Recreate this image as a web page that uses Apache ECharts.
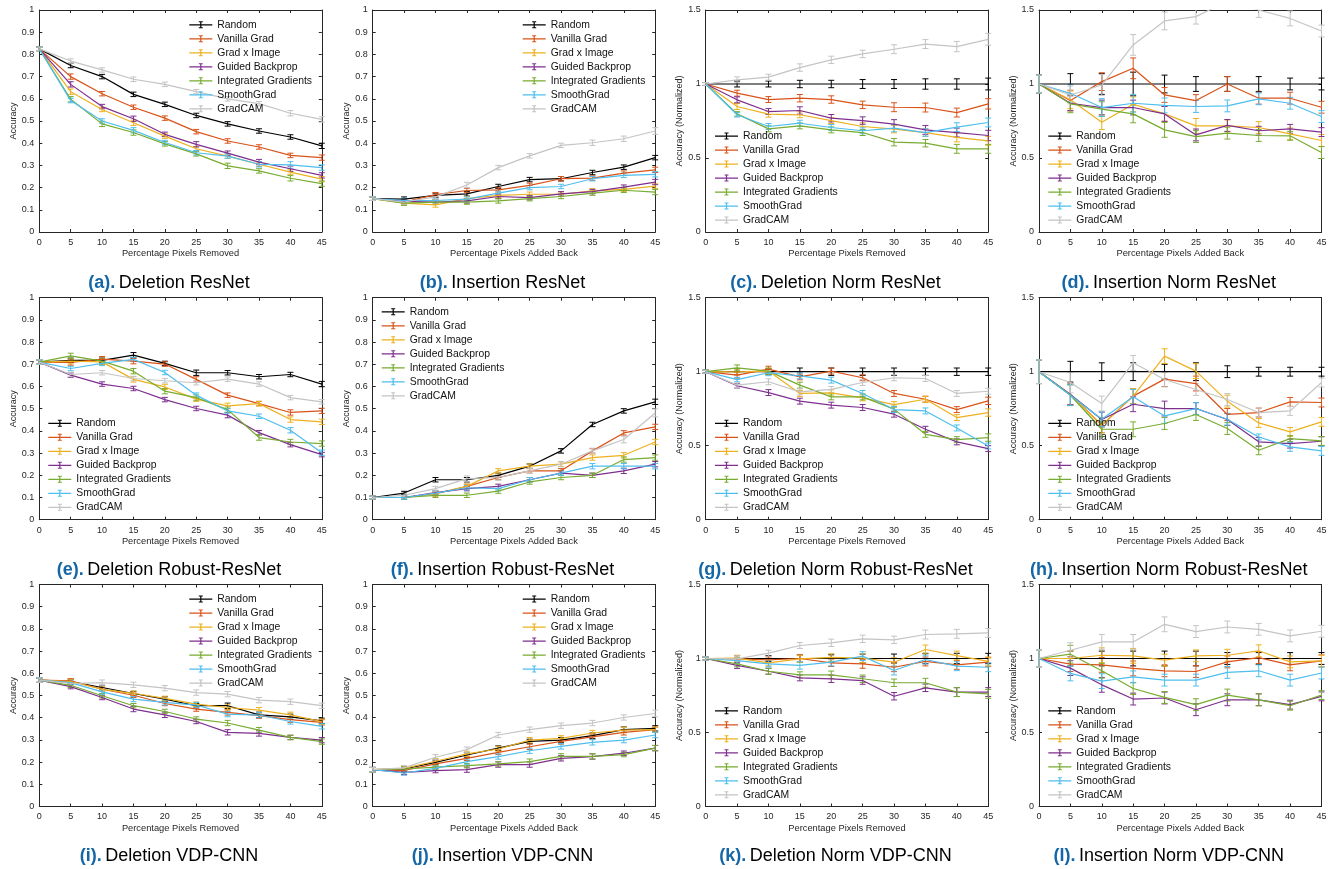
<!DOCTYPE html>
<html><head><meta charset="utf-8">
<script src="https://cdn.jsdelivr.net/npm/echarts@6/dist/echarts.min.js"></script>
<style>html,body{margin:0;padding:0;background:#fff}#c{width:1335px;height:869px}</style>
</head><body><div id="c"></div>
<script>
// ---------------- DATA ----------------
const xValues = [0, 5, 10, 15, 20, 25, 30, 35, 40, 45];
const methodNames = ['Random', 'Vanilla Grad', 'Grad x Image', 'Guided Backprop', 'Integrated Gradients', 'SmoothGrad', 'GradCAM'];
const panelLetters = ['a','b','c','d','e','f','g','h','i','j','k','l'];
const panelTitles = ['Deletion ResNet','Insertion ResNet','Deletion Norm ResNet','Insertion Norm ResNet',
  'Deletion Robust-ResNet','Insertion Robust-ResNet','Deletion Norm Robust-ResNet','Insertion Norm Robust-ResNet',
  'Deletion VDP-CNN','Insertion VDP-CNN','Deletion Norm VDP-CNN','Insertion Norm VDP-CNN'];
const xAxisTitles = ['Percentage Pixels Removed','Percentage Pixels Added Back'];
const yAxisTitles = ['Accuracy','Accuracy (Normalized)'];

const aMean = [
  [0.825,0.750,0.700,0.620,0.575,0.525,0.487,0.455,0.428,0.388],
  [0.825,0.700,0.623,0.562,0.513,0.452,0.410,0.383,0.345,0.335],
  [0.825,0.632,0.552,0.492,0.432,0.375,0.342,0.305,0.270,0.238],
  [0.825,0.665,0.565,0.510,0.440,0.395,0.355,0.315,0.285,0.255],
  [0.825,0.598,0.487,0.448,0.397,0.352,0.298,0.275,0.242,0.218],
  [0.825,0.592,0.500,0.458,0.403,0.357,0.342,0.305,0.302,0.290],
  [0.825,0.770,0.730,0.688,0.665,0.632,0.600,0.578,0.535,0.507]];
const aErr = [
  [0.008,0.01,0.01,0.01,0.01,0.01,0.01,0.01,0.01,0.012],
  [0.008,0.012,0.01,0.01,0.01,0.01,0.01,0.01,0.01,0.012],
  [0.008,0.012,0.01,0.012,0.01,0.01,0.01,0.01,0.01,0.012],
  [0.008,0.012,0.01,0.012,0.01,0.012,0.01,0.012,0.012,0.012],
  [0.008,0.012,0.012,0.012,0.01,0.01,0.012,0.01,0.012,0.012],
  [0.008,0.01,0.01,0.012,0.01,0.01,0.01,0.012,0.015,0.012],
  [0.008,0.01,0.01,0.01,0.01,0.01,0.01,0.01,0.012,0.012]];

const bMean = [
  [0.150,0.148,0.165,0.172,0.205,0.236,0.240,0.268,0.292,0.335],
  [0.150,0.135,0.168,0.187,0.190,0.210,0.240,0.243,0.265,0.280],
  [0.150,0.130,0.122,0.150,0.165,0.170,0.170,0.185,0.192,0.207],
  [0.150,0.138,0.135,0.140,0.160,0.155,0.172,0.182,0.202,0.225],
  [0.150,0.130,0.135,0.135,0.140,0.150,0.160,0.175,0.188,0.180],
  [0.150,0.142,0.142,0.148,0.175,0.200,0.205,0.240,0.255,0.260],
  [0.150,0.135,0.158,0.212,0.290,0.343,0.390,0.402,0.420,0.455]];
const bErr = [
  [0.008,0.01,0.01,0.01,0.01,0.01,0.01,0.01,0.01,0.01],
  [0.008,0.01,0.01,0.01,0.01,0.01,0.01,0.01,0.01,0.012],
  [0.008,0.01,0.01,0.01,0.01,0.01,0.01,0.01,0.01,0.01],
  [0.008,0.01,0.01,0.01,0.01,0.01,0.01,0.01,0.01,0.012],
  [0.008,0.01,0.01,0.01,0.01,0.01,0.01,0.01,0.01,0.012],
  [0.008,0.01,0.01,0.01,0.01,0.01,0.01,0.01,0.01,0.012],
  [0.008,0.01,0.01,0.012,0.01,0.01,0.01,0.012,0.012,0.015]];

const cMean = [
  [1,1,1,1,1,1,1,1,1,1],
  [1,0.938,0.895,0.904,0.895,0.859,0.843,0.841,0.807,0.866],
  [1,0.848,0.796,0.792,0.753,0.713,0.695,0.672,0.639,0.616],
  [1,0.893,0.814,0.821,0.769,0.753,0.729,0.690,0.672,0.652],
  [1,0.798,0.697,0.717,0.690,0.672,0.607,0.600,0.562,0.562],
  [1,0.792,0.713,0.735,0.706,0.684,0.702,0.672,0.708,0.740],
  [1,1.028,1.046,1.111,1.163,1.203,1.235,1.270,1.253,1.302]];
const cErr = [
  [0.01,0.02,0.02,0.025,0.025,0.03,0.03,0.035,0.035,0.04],
  [0.01,0.02,0.02,0.025,0.025,0.025,0.03,0.03,0.03,0.035],
  [0.01,0.02,0.02,0.02,0.02,0.025,0.025,0.025,0.03,0.03],
  [0.01,0.02,0.02,0.025,0.025,0.025,0.03,0.03,0.03,0.035],
  [0.01,0.015,0.02,0.02,0.02,0.02,0.025,0.025,0.03,0.03],
  [0.01,0.015,0.02,0.02,0.02,0.02,0.025,0.025,0.03,0.03],
  [0.01,0.02,0.02,0.025,0.025,0.025,0.03,0.03,0.035,0.04]];

const dMean = [
  [1,1,1,1,1,1,1,1,1,1],
  [1,0.888,1.016,1.106,0.926,0.888,1.000,0.904,0.904,0.843],
  [1,0.893,0.742,0.863,0.798,0.717,0.717,0.706,0.663,0.618],
  [1,0.870,0.841,0.841,0.798,0.656,0.720,0.684,0.697,0.675],
  [1,0.866,0.830,0.798,0.690,0.645,0.668,0.652,0.650,0.537],
  [1,0.937,0.841,0.870,0.855,0.848,0.852,0.900,0.870,0.780],
  [1,0.926,0.993,1.264,1.426,1.455,1.560,1.500,1.443,1.358]];
const dErr = [
  [0.06,0.07,0.07,0.08,0.06,0.05,0.05,0.05,0.04,0.04],
  [0.06,0.07,0.06,0.07,0.05,0.04,0.05,0.04,0.04,0.04],
  [0.06,0.06,0.05,0.05,0.05,0.05,0.04,0.04,0.04,0.04],
  [0.06,0.05,0.05,0.05,0.05,0.04,0.04,0.03,0.03,0.03],
  [0.06,0.06,0.05,0.06,0.05,0.04,0.04,0.04,0.03,0.04],
  [0.06,0.06,0.06,0.06,0.05,0.04,0.04,0.04,0.04,0.04],
  [0.06,0.06,0.07,0.07,0.06,0.05,0.05,0.05,0.05,0.04]];

const eMean = [
  [0.710,0.718,0.718,0.741,0.704,0.662,0.662,0.644,0.654,0.611],
  [0.710,0.708,0.723,0.714,0.701,0.632,0.561,0.523,0.483,0.490],
  [0.710,0.714,0.711,0.632,0.598,0.543,0.513,0.523,0.451,0.441],
  [0.710,0.651,0.611,0.591,0.541,0.501,0.471,0.392,0.338,0.293],
  [0.710,0.738,0.714,0.669,0.579,0.550,0.496,0.370,0.350,0.343],
  [0.710,0.681,0.704,0.722,0.663,0.561,0.490,0.466,0.403,0.302],
  [0.710,0.654,0.662,0.636,0.626,0.617,0.633,0.611,0.550,0.531]];
const eErr = [
  [0.01,0.01,0.01,0.012,0.01,0.012,0.01,0.01,0.01,0.012],
  [0.01,0.012,0.012,0.012,0.01,0.012,0.01,0.01,0.012,0.012],
  [0.01,0.012,0.012,0.012,0.012,0.01,0.012,0.01,0.012,0.012],
  [0.01,0.01,0.01,0.01,0.01,0.01,0.012,0.01,0.01,0.01],
  [0.01,0.012,0.012,0.012,0.012,0.012,0.012,0.012,0.012,0.012],
  [0.01,0.01,0.01,0.01,0.01,0.01,0.01,0.01,0.012,0.012],
  [0.01,0.01,0.01,0.01,0.01,0.01,0.01,0.01,0.01,0.01]];

const fMean = [
  [0.100,0.120,0.180,0.180,0.200,0.241,0.310,0.429,0.490,0.531],
  [0.100,0.100,0.117,0.150,0.190,0.220,0.220,0.310,0.391,0.418],
  [0.100,0.100,0.117,0.150,0.220,0.241,0.250,0.280,0.290,0.350],
  [0.100,0.100,0.122,0.140,0.150,0.180,0.210,0.200,0.220,0.250],
  [0.100,0.100,0.110,0.110,0.129,0.170,0.190,0.200,0.271,0.280],
  [0.100,0.100,0.120,0.144,0.140,0.180,0.210,0.241,0.241,0.241],
  [0.100,0.110,0.140,0.185,0.190,0.220,0.250,0.310,0.361,0.481]];
const fErr = [
  [0.006,0.008,0.01,0.01,0.01,0.01,0.01,0.01,0.01,0.012],
  [0.006,0.008,0.01,0.01,0.01,0.01,0.01,0.01,0.01,0.012],
  [0.006,0.008,0.01,0.01,0.01,0.01,0.01,0.012,0.012,0.012],
  [0.006,0.008,0.01,0.01,0.01,0.01,0.01,0.01,0.012,0.012],
  [0.006,0.008,0.01,0.01,0.01,0.01,0.01,0.01,0.012,0.012],
  [0.006,0.008,0.01,0.01,0.01,0.01,0.01,0.012,0.012,0.012],
  [0.006,0.008,0.01,0.012,0.012,0.012,0.012,0.012,0.015,0.018]];

const gMean = [
  [1,1,1,1,1,1,1,1,1,1],
  [1,0.977,1.017,0.965,1.004,0.959,0.853,0.814,0.744,0.803],
  [1,0.999,1.004,0.853,0.857,0.823,0.778,0.814,0.690,0.724],
  [1,0.905,0.859,0.801,0.774,0.758,0.713,0.611,0.526,0.480],
  [1,1.026,1.004,0.909,0.830,0.830,0.747,0.577,0.541,0.555],
  [1,0.947,0.993,0.972,0.943,0.853,0.744,0.735,0.620,0.498],
  [1,0.909,0.932,0.864,0.880,0.927,0.959,0.954,0.853,0.868]];
const gErr = [
  [0.01,0.02,0.02,0.025,0.025,0.025,0.025,0.025,0.025,0.025],
  [0.01,0.02,0.02,0.02,0.02,0.02,0.02,0.02,0.02,0.025],
  [0.01,0.02,0.02,0.02,0.02,0.02,0.02,0.02,0.02,0.025],
  [0.01,0.015,0.02,0.02,0.02,0.02,0.02,0.02,0.02,0.02],
  [0.01,0.02,0.02,0.02,0.02,0.02,0.02,0.02,0.02,0.025],
  [0.01,0.015,0.02,0.02,0.02,0.02,0.02,0.02,0.02,0.02],
  [0.01,0.015,0.02,0.02,0.02,0.02,0.02,0.02,0.02,0.02]];

const hMean = [
  [1,1,1,1,1,1,1,1,1,1],
  [1,0.846,0.638,0.835,0.950,0.920,0.711,0.724,0.796,0.792],
  [1,0.846,0.638,0.835,1.105,1.004,0.801,0.654,0.593,0.661],
  [1,0.846,0.677,0.780,0.751,0.751,0.677,0.526,0.514,0.530],
  [1,0.841,0.611,0.611,0.650,0.711,0.616,0.469,0.548,0.532],
  [1,0.841,0.679,0.830,0.701,0.751,0.679,0.559,0.492,0.465],
  [1,0.927,0.785,1.060,0.947,0.880,0.812,0.724,0.735,0.927]];
const hErr = [
  [0.08,0.07,0.06,0.06,0.05,0.06,0.04,0.03,0.03,0.03],
  [0.08,0.07,0.05,0.05,0.05,0.05,0.04,0.03,0.03,0.03],
  [0.08,0.07,0.05,0.05,0.05,0.05,0.04,0.03,0.03,0.03],
  [0.08,0.07,0.05,0.05,0.05,0.04,0.04,0.03,0.03,0.03],
  [0.08,0.07,0.05,0.05,0.04,0.04,0.04,0.03,0.02,0.03],
  [0.08,0.07,0.05,0.05,0.05,0.04,0.04,0.02,0.03,0.03],
  [0.08,0.07,0.05,0.05,0.05,0.04,0.04,0.03,0.03,0.03]];

const iMean = [
  [0.569,0.563,0.536,0.509,0.484,0.454,0.454,0.413,0.404,0.386],
  [0.569,0.566,0.528,0.501,0.464,0.439,0.424,0.409,0.391,0.379],
  [0.569,0.563,0.528,0.510,0.487,0.461,0.446,0.434,0.413,0.382],
  [0.569,0.540,0.491,0.439,0.413,0.383,0.334,0.329,0.311,0.299],
  [0.569,0.546,0.499,0.454,0.428,0.394,0.376,0.344,0.311,0.292],
  [0.569,0.558,0.516,0.484,0.469,0.457,0.416,0.412,0.383,0.361],
  [0.569,0.554,0.558,0.548,0.533,0.513,0.506,0.479,0.472,0.454]];
const iErr = [
  [0.01,0.01,0.01,0.01,0.01,0.01,0.012,0.012,0.012,0.012],
  [0.01,0.01,0.01,0.01,0.01,0.01,0.012,0.012,0.012,0.012],
  [0.01,0.01,0.01,0.01,0.01,0.01,0.012,0.012,0.012,0.012],
  [0.01,0.01,0.01,0.012,0.012,0.01,0.012,0.012,0.01,0.012],
  [0.01,0.01,0.01,0.01,0.01,0.01,0.012,0.012,0.01,0.012],
  [0.01,0.01,0.01,0.012,0.012,0.012,0.012,0.012,0.012,0.012],
  [0.01,0.01,0.012,0.012,0.012,0.012,0.012,0.012,0.012,0.012]];

const jMean = [
  [0.166,0.169,0.199,0.232,0.263,0.293,0.299,0.319,0.346,0.352],
  [0.166,0.162,0.192,0.217,0.244,0.269,0.293,0.314,0.334,0.346],
  [0.166,0.172,0.204,0.237,0.259,0.299,0.307,0.331,0.344,0.346],
  [0.166,0.154,0.162,0.166,0.189,0.189,0.217,0.225,0.240,0.263],
  [0.166,0.169,0.177,0.184,0.192,0.202,0.226,0.226,0.234,0.263],
  [0.166,0.151,0.172,0.202,0.225,0.251,0.271,0.289,0.299,0.322],
  [0.166,0.174,0.222,0.256,0.322,0.346,0.364,0.376,0.401,0.419]];
const jErr = [
  [0.01,0.01,0.01,0.01,0.01,0.01,0.012,0.012,0.012,0.012],
  [0.01,0.01,0.01,0.01,0.01,0.012,0.012,0.012,0.012,0.012],
  [0.01,0.01,0.012,0.012,0.012,0.012,0.012,0.012,0.012,0.012],
  [0.01,0.01,0.01,0.012,0.012,0.012,0.012,0.012,0.01,0.012],
  [0.01,0.01,0.01,0.01,0.01,0.012,0.012,0.012,0.01,0.012],
  [0.01,0.01,0.01,0.012,0.012,0.012,0.012,0.012,0.012,0.012],
  [0.01,0.01,0.012,0.012,0.012,0.012,0.012,0.012,0.012,0.015]];

const kMean = [
  [1,1,1,1,1,1,1,1,1,1],
  [1,0.998,0.991,1.000,0.971,0.964,0.941,0.980,0.957,0.975],
  [1,1.002,0.971,0.998,1.007,1.002,0.975,1.061,1.020,0.980],
  [1,0.953,0.914,0.869,0.863,0.851,0.745,0.802,0.773,0.773],
  [1,0.964,0.914,0.890,0.890,0.863,0.836,0.836,0.773,0.761],
  [1,0.986,0.964,0.953,0.975,1.016,0.919,0.993,0.948,0.941],
  [1,0.998,1.036,1.088,1.106,1.133,1.126,1.162,1.167,1.173]];
const kErr = [
  [0.01,0.02,0.02,0.025,0.025,0.03,0.03,0.035,0.035,0.035],
  [0.01,0.02,0.02,0.025,0.025,0.03,0.03,0.03,0.03,0.03],
  [0.01,0.02,0.02,0.025,0.025,0.03,0.03,0.03,0.03,0.03],
  [0.01,0.02,0.02,0.02,0.025,0.025,0.025,0.025,0.03,0.03],
  [0.01,0.02,0.02,0.02,0.025,0.025,0.025,0.03,0.03,0.03],
  [0.01,0.02,0.02,0.025,0.025,0.03,0.03,0.03,0.03,0.03],
  [0.01,0.02,0.02,0.02,0.025,0.025,0.025,0.03,0.03,0.03]];

const lMean = [
  [1,1,1,1,1,1,1,1,1,1],
  [1,0.962,0.957,0.933,0.917,0.912,0.977,1.006,0.957,0.984],
  [1,1.000,1.022,1.018,0.989,1.018,1.022,1.052,0.977,0.984],
  [1,0.935,0.822,0.726,0.733,0.654,0.721,0.721,0.688,0.744],
  [1,1.029,0.917,0.797,0.737,0.688,0.753,0.721,0.681,0.753],
  [1,0.899,0.847,0.876,0.854,0.854,0.906,0.917,0.854,0.902],
  [1,1.056,1.112,1.112,1.231,1.182,1.213,1.197,1.153,1.184]];
const lErr = [
  [0.06,0.05,0.05,0.05,0.05,0.05,0.04,0.04,0.04,0.04],
  [0.06,0.05,0.05,0.05,0.04,0.04,0.04,0.04,0.04,0.04],
  [0.06,0.05,0.05,0.05,0.04,0.04,0.04,0.04,0.04,0.04],
  [0.06,0.05,0.05,0.04,0.04,0.04,0.04,0.04,0.03,0.03],
  [0.06,0.06,0.05,0.04,0.04,0.04,0.04,0.04,0.03,0.03],
  [0.06,0.05,0.05,0.04,0.04,0.04,0.04,0.04,0.04,0.04],
  [0.06,0.05,0.05,0.05,0.05,0.04,0.04,0.04,0.04,0.04]];

// ---------------- STYLE / LAYOUT ----------------
const panelMeans = [aMean,bMean,cMean,dMean,eMean,fMean,gMean,hMean,iMean,jMean,kMean,lMean];
const panelErrs  = [aErr,bErr,cErr,dErr,eErr,fErr,gErr,hErr,iErr,jErr,kErr,lErr];
const methodColors = ['#000000','#D95319','#EDB120','#7E2F8E','#77AC30','#4DBEEE','#C4C4C4'];
const FONT = '"Liberation Sans", Arial, Helvetica, sans-serif';
const AX = '#262626';
const colLeft = [39.3, 372.7, 705.7, 1039];
const rowTop = [10, 297.7, 584.5];
const gridW = 282.5, gridH = 222;
const captionY = [283.3, 570, 856.3];
const legendPos = [[189.3,19.7],[522.7,19.7],[715,131],[1048.3,131],
                   [48.3,418.3],[381.7,306.7],[715,418.3],[1048.3,418.3],
                   [189.3,594],[522.7,594],[715,705.7],[1048.3,705.7]];
const errIcon = 'path://M0,3L23,3L23,4.2L0,4.2Z M10.9,0L12.1,0L12.1,7L10.9,7Z M9.5,0L13.5,0L13.5,1L9.5,1Z M9.5,6L13.5,6L13.5,7L9.5,7Z';

function errRender(color) {
  return function (params, api) {
    const x = api.value(0), y = api.value(1), e = api.value(2);
    const cs = params.coordSys;
    const p1 = api.coord([x, y + e]);
    const p2 = api.coord([x, y - e]);
    const topLim = cs.y, botLim = cs.y + cs.height;
    const children = [];
    if (p2[1] < topLim || p1[1] > botLim) return { type: 'group', children };
    const st = { stroke: color, lineWidth: 1 };
    const hw = 3;
    children.push({ type: 'line', shape: { x1: p1[0], y1: Math.max(p1[1], topLim), x2: p2[0], y2: Math.min(p2[1], botLim) }, style: st });
    if (p1[1] >= topLim) children.push({ type: 'line', shape: { x1: p1[0] - hw, y1: p1[1], x2: p1[0] + hw, y2: p1[1] }, style: st });
    if (p2[1] <= botLim) children.push({ type: 'line', shape: { x1: p2[0] - hw, y1: p2[1], x2: p2[0] + hw, y2: p2[1] }, style: st });
    return { type: 'group', children };
  };
}

const grids = [], xAxes = [], yAxes = [], series = [], legends = [], titles = [];
for (let p = 0; p < 12; p++) {
  const r = Math.floor(p / 4), c = p % 4;
  const isNorm = (c >= 2);
  const isIns = (c % 2 === 1);
  const yMax = isNorm ? 1.5 : 1;
  const yStep = isNorm ? 0.5 : 0.1;
  grids.push({ left: colLeft[c], top: rowTop[r], width: gridW, height: gridH, show: false });
  const lineSt = { show: true, onZero: false, lineStyle: { color: AX, width: 1 } };
  const tickSt = { show: true, inside: true, length: 3, lineStyle: { color: AX, width: 1 } };
  xAxes.push({
    gridIndex: p, type: 'value', min: 0, max: 45, interval: 5, position: 'bottom',
    name: xAxisTitles[isIns ? 1 : 0], nameLocation: 'middle', nameGap: 17,
    nameTextStyle: { fontSize: 9.3, color: AX, fontFamily: FONT },
    axisLine: lineSt, axisTick: tickSt, splitLine: { show: false },
    axisLabel: { fontSize: 9, color: AX, margin: 6, fontFamily: FONT, showMinLabel: true, showMaxLabel: true }
  });
  xAxes.push({
    gridIndex: p, type: 'value', min: 0, max: 45, interval: 5, position: 'top',
    axisLine: lineSt, axisTick: tickSt, splitLine: { show: false }, axisLabel: { show: false }
  });
  yAxes.push({
    gridIndex: p, type: 'value', min: 0, max: yMax, interval: yStep, position: 'left',
    name: yAxisTitles[isNorm ? 1 : 0], nameLocation: 'middle', nameGap: 20, nameRotate: 90,
    nameTextStyle: { fontSize: 9, color: AX, fontFamily: FONT },
    axisLine: lineSt, axisTick: tickSt, splitLine: { show: false },
    axisLabel: { fontSize: 9, color: AX, margin: 5, fontFamily: FONT, showMinLabel: true, showMaxLabel: true }
  });
  yAxes.push({
    gridIndex: p, type: 'value', min: 0, max: yMax, interval: yStep, position: 'right',
    axisLine: lineSt, axisTick: tickSt, splitLine: { show: false }, axisLabel: { show: false }
  });
  const means = panelMeans[p], errs = panelErrs[p];
  for (let s = 0; s < methodNames.length; s++) {
    const col = methodColors[s];
    series.push({
      type: 'line', name: methodNames[s], xAxisIndex: p * 2, yAxisIndex: p * 2,
      data: xValues.map((x, k) => [x, means[s][k]]),
      symbol: 'none', color: col, lineStyle: { color: col, width: 1.2 }, itemStyle: { color: col },
      clip: true, animation: false, silent: true, z: 2
    });
    series.push({
      type: 'custom', xAxisIndex: p * 2, yAxisIndex: p * 2,
      data: xValues.map((x, k) => [x, means[s][k], errs[s][k]]),
      encode: { x: 0, y: 1 }, renderItem: errRender(col), clip: false,
      animation: false, silent: true, z: 2
    });
  }
  legends.push({
    left: legendPos[p][0], top: legendPos[p][1], orient: 'vertical', padding: 0,
    itemWidth: 23, itemHeight: 7, itemGap: 4, icon: errIcon, selectedMode: false,
    data: methodNames, itemStyle: { borderWidth: 0 },
    textStyle: { fontSize: 10.4, color: '#111', fontFamily: FONT, lineHeight: 10 }
  });
  titles.push({
    text: '{b|(' + panelLetters[p] + ').}{n|' + panelTitles[p] + '}',
    left: colLeft[c] + gridW / 2 - 11.5, top: captionY[r], textAlign: 'center', textVerticalAlign: 'middle',
    padding: 0,
    textStyle: {
      rich: {
        b: { fontSize: 18, fontWeight: 'bold', color: '#1566a6', fontFamily: FONT, padding: [0, 3.5, 0, 0] },
        n: { fontSize: 18, fontWeight: 'normal', color: '#000', fontFamily: FONT }
      }
    }
  });
}

const chart = echarts.init(document.getElementById('c'), null, { renderer: 'canvas' });
chart.setOption({
  animation: false,
  backgroundColor: '#ffffff',
  title: titles,
  grid: grids,
  xAxis: xAxes,
  yAxis: yAxes,
  legend: legends,
  series: series
});
</script>
</body></html>
